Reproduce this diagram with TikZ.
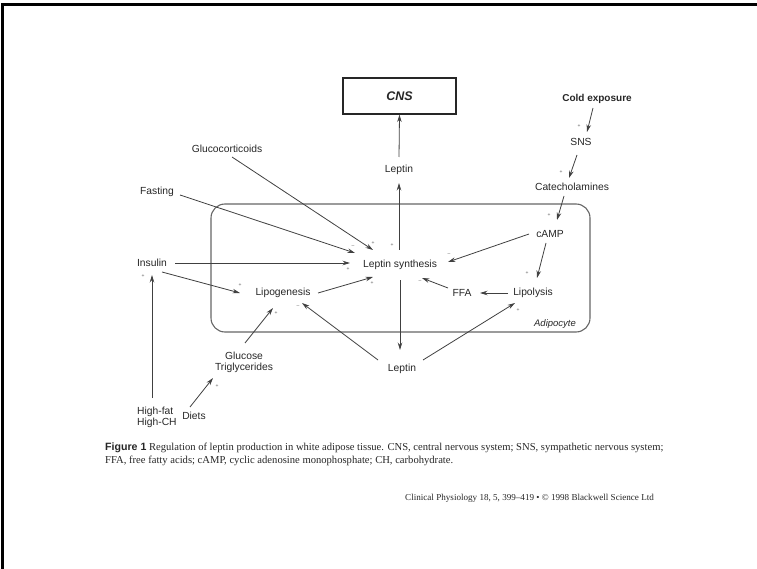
\documentclass[tikz,border=0pt]{standalone}
\usepackage{fontspec}
\setmainfont{Liberation Serif}
\setsansfont{Liberation Sans}
\usetikzlibrary{arrows.meta,calc}
\begin{document}
\begin{tikzpicture}[x=1pt,y=-1pt,
  lbl/.style={font=\sffamily\fontsize{10.3}{11}\selectfont, text=black!85, inner sep=0pt, align=center},
  arr/.style={draw=black!75, line width=0.8pt, -{Stealth[length=7.5pt,width=4.5pt]}},
  sgn/.style={font=\sffamily\fontsize{5}{5}\selectfont, text=black!65, inner sep=0pt},
  capt/.style={font=\rmfamily\fontsize{10.6}{12}\selectfont, text=black!85, inner sep=0pt, anchor=base west}]
\useasboundingbox (0,0) rectangle (757,569);
% frame
\draw[line width=3pt, black] (2.5,569) -- (2.5,4.5) -- (757,4.5);
% adipocyte cell
\node[draw=black!60, line width=1.1pt, rounded corners=14pt, minimum width=379pt, minimum height=128pt, inner sep=0pt] (cell) at (400.5,268) {};
\node[lbl, font=\sffamily\itshape\fontsize{9.5}{10}\selectfont] (adip) at (555,324) {Adipocyte};
% CNS box
\node[draw=black!85, line width=1.2pt, minimum width=113pt, minimum height=36pt, inner sep=0pt, font=\sffamily\bfseries\itshape\fontsize{12.5}{13}\selectfont, text=black!85] (cns) at (399.5,96) {CNS};
% labels
\node[lbl] (lepT) at (399,170) {Leptin};
\node[lbl] (ls) at (400,265) {Leptin synthesis};
\node[lbl] (lepB) at (402,369) {Leptin};
\node[lbl] (gluco) at (227,149) {Glucocorticoids};
\node[lbl] (fast) at (157,192) {Fasting};
\node[lbl] (ins) at (152,263) {Insulin};
\node[lbl] (lipog) at (283,293) {Lipogenesis};
\node[lbl] (glu) at (244,362) {Glucose\\Triglycerides};
\node[lbl, align=left, anchor=west] (hf) at (137,417) {High-fat\\High-CH};
\node[lbl] (diets) at (194,416) {Diets};
\node[lbl, font=\sffamily\bfseries\fontsize{10}{11}\selectfont] (cold) at (597,99) {Cold exposure};
\node[lbl] (sns) at (581,142) {SNS};
\node[lbl] (cat) at (572,187) {Catecholamines};
\node[lbl] (camp) at (550,234) {cAMP};
\node[lbl] (lipol) at (533,293) {Lipolysis};
\node[lbl] (ffa) at (462,293) {FFA};
% arrows
\draw[arr] ($(lepT)+(0,-13)$) -- (cns.south);
\draw[arr] ($(ls)+(-1,-15)$) -- ($(lepT)+(0,13)$);
\draw[arr] ($(ls)+(0,15)$) -- ($(lepB)+(-2,-19)$);
\draw[arr] ($(gluco)+(5,8)$) -- ($(ls)+(-27,-15)$);
\draw[arr] ($(fast)+(23,3)$) -- ($(ls)+(-45,-12)$);
\draw[arr] ($(ins)+(23,0)$) -- ($(ls)+(-50,-2)$);
\draw[arr] ($(ins)+(10,9)$) -- ($(lipog)+(-43,0)$);
\draw[arr] ($(lipog)+(35,0)$) -- ($(ls)+(-27,12)$);
\draw[arr] ($(glu)+(1,-19)$) -- ($(lipog)+(-10,15)$);
\draw[arr] ($(diets)+(-4,-9)$) -- ($(glu)+(-31,16)$);
\draw[arr] ($(hf.west)+(15,-19)$) -- ($(ins)+(0,12)$);
\draw[arr] ($(lepB)+(-24,-9)$) -- ($(lipog)+(19,10)$);
\draw[arr] ($(lepB)+(21,-9)$) -- ($(lipol)+(-18,10)$);
\draw[arr] ($(lipol)+(-25,0)$) -- ($(ffa)+(18,0)$);
\draw[arr] ($(ffa)+(-14,-5)$) -- ($(ls)+(22,13)$);
\draw[arr] ($(camp)+(-21,0)$) -- ($(ls)+(48,-3)$);
\draw[arr] ($(camp)+(-4,9)$) -- ($(lipol)+(4,-15)$);
\draw[arr] ($(cold)+(-4,9)$) -- ($(sns)+(6,-10)$);
\draw[arr] ($(sns)+(-4,13)$) -- ($(cat)+(-3,-9)$);
\draw[arr] ($(cat)+(-8,9)$) -- ($(camp)+(7,-14)$);
% signs
\node[sgn] (s1) at (579,126) {+};
\node[sgn] (s2) at (561,172) {+};
\node[sgn] (s3) at (549,215) {+};
\node[sgn] (s4) at (449,255) {--};
\node[sgn] (s5) at (527,273) {+};
\node[sgn] (s6) at (420,282) {--};
\node[sgn] (s7) at (518,310) {+};
\node[sgn] (s8) at (298,307) {--};
\node[sgn] (s9) at (276,313) {+};
\node[sgn] (s10) at (240,285) {+};
\node[sgn] (s11) at (217,386) {+};
\node[sgn] (s12) at (143,276) {+};
\node[sgn] (s13) at (348,269) {+};
\node[sgn] (s14) at (372,283) {+};
\node[sgn] (s15) at (353,247) {--};
\node[sgn] (s16) at (373,243) {+};
\node[sgn] (s17) at (392,245) {+};
% caption
\node[capt] (cap1) at (105,450) {{\sffamily\bfseries Figure 1} Regulation of leptin production in white adipose tissue. CNS, central nervous system; SNS, sympathetic nervous system;};
\node[capt] (cap2) at (105,463) {FFA, free fatty acids; cAMP, cyclic adenosine monophosphate; CH, carbohydrate.};
\node[capt, font=\rmfamily\fontsize{9.1}{10}\selectfont] (src) at (405,500) {Clinical Physiology 18, 5, 399–419 • © 1998 Blackwell Science Ltd};
\end{tikzpicture}
\end{document}
